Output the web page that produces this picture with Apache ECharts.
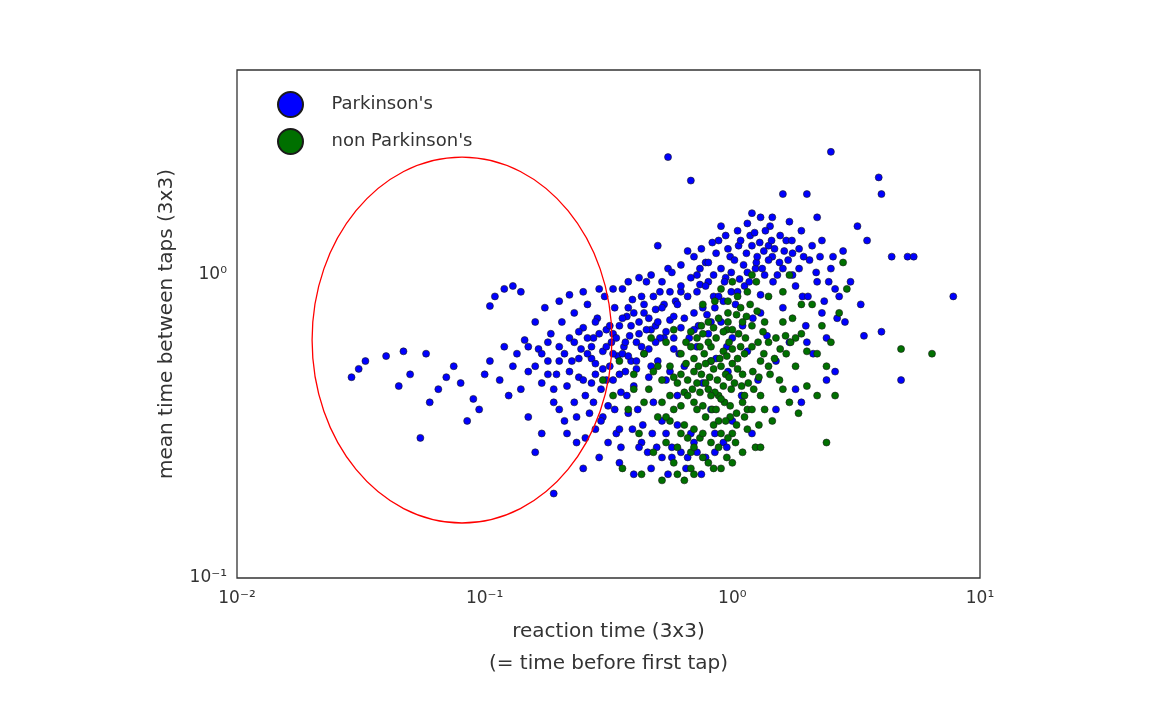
<!DOCTYPE html>
<html><head><meta charset="utf-8">
<script src="https://cdn.jsdelivr.net/npm/echarts@6/dist/echarts.min.js"></script>
<style>html,body{margin:0;background:#fff}#c{width:1175px;height:723px}</style>
</head><body><div id="c"></div>
<script>
const seriesNames = ["Parkinson's", "non Parkinson's"];
const xTicks = [0.01, 0.1, 1, 10];
const yTicks = [0.1, 1];
const parkinsons = [
[0.029,0.46],[0.031,0.49],[0.033,0.52],[0.040,0.54],[0.047,0.56],[0.045,0.43],[0.050,0.47],[0.058,0.55],[0.055,0.29],[0.060,0.38],
[0.065,0.42],[0.070,0.46],[0.075,0.50],[0.080,0.44],[0.085,0.33],[0.090,0.39],[0.100,0.47],[0.105,0.79],[0.110,0.85],[0.120,0.90],
[0.130,0.92],[0.140,0.88],[0.120,0.58],[0.130,0.50],[0.140,0.42],[0.150,0.34],[0.160,0.26],[0.170,0.30],[0.190,0.19],[0.200,0.82],
[0.220,0.86],[0.095,0.36],[0.105,0.52],[0.115,0.45],[0.125,0.40],[0.135,0.55],[0.145,0.61],[0.150,0.48],[0.160,0.70],[0.165,0.57],
[0.170,0.44],[0.175,0.78],[0.180,0.52],[0.185,0.64],[0.190,0.38],[0.195,0.47],[0.200,0.58],[0.205,0.70],[0.210,0.33],[0.215,0.43],
[0.220,0.62],[0.225,0.52],[0.230,0.75],[0.235,0.28],[0.240,0.46],[0.245,0.57],[0.250,0.67],[0.255,0.40],[0.260,0.80],[0.265,0.35],
[0.270,0.53],[0.275,0.62],[0.280,0.47],[0.285,0.72],[0.290,0.25],[0.295,0.42],[0.300,0.56],[0.305,0.85],[0.310,0.66],[0.315,0.37],
[0.320,0.50],[0.325,0.60],[0.330,0.45],[0.335,0.78],[0.340,0.30],[0.345,0.54],[0.350,0.68],[0.355,0.41],[0.360,0.90],[0.365,0.58],
[0.370,0.48],[0.375,0.73],[0.380,0.35],[0.385,0.63],[0.390,0.52],[0.395,0.83],[0.400,0.43],[0.410,0.60],[0.420,0.70],[0.430,0.28],
[0.440,0.55],[0.450,0.95],[0.460,0.46],[0.470,0.66],[0.480,0.38],[0.490,0.77],[0.500,0.52],[0.510,0.88],[0.520,0.33],[0.530,0.62],
[0.540,0.45],[0.550,1.05],[0.560,0.71],[0.570,0.25],[0.580,0.57],[0.590,0.82],[0.600,0.40],[0.620,0.67],[0.640,0.50],[0.660,1.20],
[0.680,0.30],[0.700,0.75],[0.720,0.58],[0.740,0.93],[0.760,0.44],[0.780,1.10],[0.800,0.64],[0.820,0.36],[0.840,0.85],[0.860,0.53],
[0.880,1.30],[0.900,0.70],[0.920,0.28],[0.940,0.98],[0.960,0.48],[0.980,1.15],[1.000,0.62],[1.030,0.80],[1.060,1.25],[1.090,0.40],
[1.120,0.92],[1.150,0.56],[1.180,1.35],[1.210,0.72],[1.240,1.05],[1.270,0.45],[1.300,0.86],[1.340,1.20],[1.380,0.63],[1.420,1.45],
[1.460,0.95],[1.500,0.52],[1.550,1.10],[1.600,0.78],[1.650,1.30],[1.700,0.60],[1.750,1.00],[1.800,0.42],[1.860,1.22],[1.920,0.85],
[1.980,0.68],[2.050,1.12],[2.120,0.55],[2.200,0.95],[2.300,0.75],[2.400,0.62],[2.500,1.05],[2.600,0.48],[2.700,0.85],[2.850,0.70],
[0.550,2.45],[0.680,2.05],[2.500,2.55],[3.900,2.10],[4.000,1.85],[2.000,1.85],[1.600,1.85],[1.450,1.55],[7.800,0.85],[4.400,1.15],
[5.100,1.15],[5.400,1.15],[3.500,1.30],[3.000,0.95],[4.000,0.65],[4.800,0.45],[3.400,0.63],[1.200,1.60],[0.900,1.45],[2.200,1.55],
[0.500,1.25],[0.350,0.24],[0.400,0.22],[0.470,0.23],[0.550,0.22],[0.650,0.23],[0.750,0.22],[0.300,0.34],[0.350,0.31],[0.420,0.27],
[0.600,0.32],[0.700,0.28],[0.850,0.30],[1.000,0.33],[1.200,0.30],[1.500,0.36],[1.900,0.38],[0.250,0.23],[0.280,0.31],[0.330,0.64],
[0.410,0.49],[0.460,0.57],[0.510,0.62],[0.560,0.48],[0.610,0.55],[0.670,0.62],[0.730,0.68],[0.790,0.74],[0.850,0.78],[0.920,0.82],
[0.990,0.88],[1.070,0.97],[1.150,1.02],[1.250,1.10],[1.350,1.00],[1.450,1.15],[1.600,1.05],[1.750,1.18],[1.300,0.75],[1.100,0.68],
[0.950,0.58],[0.820,0.52],[0.620,0.88],[0.720,1.00],[0.800,0.95],[0.380,0.78],[0.430,0.85],[0.280,0.70],[0.240,0.65],[0.200,0.52],
[0.180,0.60],[0.270,0.44],[0.310,0.45],[0.360,0.55],[0.230,0.38],[0.260,0.55],[0.440,0.75],[0.490,0.68],[0.530,0.80],[0.580,0.73],
[3.200,1.45],[2.800,1.20],[2.300,1.30],[1.900,1.40],[1.700,1.50],[1.400,1.25],[2.600,0.90],[3.300,0.80],[2.000,0.60],[2.400,0.45]
];
const parkinsonsCore = [
[0.210,0.55],[0.220,0.48],[0.230,0.60],[0.240,0.53],[0.250,0.45],[0.260,0.62],[0.270,0.58],[0.280,0.51],[0.290,0.64],[0.300,0.49],
[0.310,0.58],[0.320,0.68],[0.330,0.55],[0.340,0.62],[0.350,0.47],[0.360,0.72],[0.370,0.60],[0.380,0.54],[0.390,0.68],[0.400,0.75],
[0.410,0.52],[0.420,0.64],[0.430,0.58],[0.440,0.80],[0.450,0.66],[0.460,0.72],[0.470,0.50],[0.480,0.85],[0.490,0.60],[0.500,0.70],
[0.520,0.78],[0.540,0.65],[0.560,0.88],[0.580,0.62],[0.600,0.80],[0.620,0.92],[0.640,0.72],[0.660,0.85],[0.680,0.98],[0.700,0.66],
[0.720,0.88],[0.740,1.05],[0.760,0.78],[0.780,0.92],[0.800,1.10],[0.820,0.70],[0.840,1.00],[0.860,1.18],[0.880,0.85],[0.900,1.05],
[0.930,0.95],[0.960,1.22],[0.990,1.02],[1.020,1.12],[1.050,0.88],[1.080,1.30],[1.110,1.08],[1.140,1.18],[1.170,0.95],[1.200,1.25],
[1.230,1.38],[1.260,1.15],[1.290,1.28],[1.320,1.05],[1.360,1.40],[1.400,1.12],[1.440,1.30],[1.480,1.22],[1.520,1.00],[1.560,1.35],
[1.620,1.20],[1.680,1.12],[1.740,1.30],[1.800,0.92],[1.860,1.05],[1.940,1.15],[2.020,0.85],[2.100,1.25],[2.180,1.02],[2.260,1.15],
[2.350,0.82],[2.450,0.95],[2.550,1.15],[2.650,0.72],[0.190,0.42],[0.200,0.36],[0.215,0.30],[0.235,0.34],[0.255,0.29],[0.275,0.38],
[0.295,0.33],[0.315,0.28],[0.335,0.36],[0.355,0.27],[0.375,0.40],[0.395,0.31],[0.415,0.36],[0.435,0.32],[0.455,0.26],[0.475,0.30],
[0.495,0.27],[0.520,0.25],[0.540,0.30],[0.570,0.27],[0.620,0.26],[0.660,0.25],[0.720,0.26],[0.780,0.25],[0.850,0.26],[0.950,0.27],
[0.330,0.90],[0.380,0.95],[0.420,0.98],[0.470,1.00],[0.520,0.95],[0.570,1.02],[0.620,1.08],[0.700,1.15],[0.750,1.22],[0.830,1.28],
[0.940,1.35],[1.050,1.40],[1.150,1.48],[1.300,1.55],[0.250,0.88],[0.290,0.90],[0.160,0.50],[0.170,0.55],[0.180,0.47],[0.150,0.58]
];
const nonParkinsons = [
[0.300,0.45],[0.330,0.40],[0.350,0.52],[0.380,0.36],[0.400,0.47],[0.420,0.30],[0.440,0.55],[0.460,0.42],[0.480,0.26],[0.500,0.50],
[0.520,0.38],[0.540,0.60],[0.560,0.33],[0.580,0.46],[0.600,0.22],[0.620,0.55],[0.640,0.41],[0.660,0.29],[0.680,0.65],[0.700,0.48],
[0.720,0.36],[0.740,0.58],[0.760,0.25],[0.780,0.44],[0.800,0.70],[0.820,0.52],[0.840,0.32],[0.860,0.62],[0.880,0.40],[0.900,0.23],
[0.920,0.56],[0.940,0.47],[0.960,0.75],[0.980,0.34],[1.000,0.51],[1.030,0.28],[1.060,0.64],[1.090,0.43],[1.120,0.55],[1.150,0.36],
[1.180,0.80],[1.210,0.48],[1.240,0.27],[1.270,0.60],[1.300,0.40],[1.350,0.70],[1.400,0.50],[1.450,0.33],[1.500,0.62],[1.550,0.45],
[1.600,0.88],[1.650,0.55],[1.700,0.38],[1.750,0.72],[1.800,0.50],[1.900,0.64],[2.000,0.43],[2.100,0.80],[2.200,0.55],[2.300,0.68],
[2.500,0.60],[2.700,0.75],[2.800,1.10],[2.900,0.90],[4.800,0.57],[6.400,0.55],[2.400,0.28],[0.360,0.23],[0.430,0.22],[0.520,0.21],
[0.640,0.21],[0.700,0.22],[0.800,0.24],[0.950,0.25],[1.100,0.26],[1.300,0.27],[0.560,0.50],[0.600,0.44],[0.650,0.51],[0.690,0.42],
[0.730,0.50],[0.770,0.55],[0.810,0.46],[0.850,0.41],[0.890,0.53],[0.930,0.38],[0.970,0.60],[0.620,0.37],[0.700,0.31],[0.760,0.37],
[0.830,0.36],[0.900,0.30],[0.990,0.42],[1.050,0.49],[1.120,0.40],[1.200,0.58],[1.300,0.52],[1.400,0.60],[1.100,0.70],[0.950,0.66],
[0.850,0.82],[0.750,0.68],[0.650,0.60],[0.580,0.66],[0.900,0.90],[1.050,0.85],[1.250,0.95],[1.400,0.85],[1.200,1.00],[1.000,0.95],
[1.600,0.70],[1.800,0.62],[2.000,0.56],[1.700,1.00],[1.900,0.80],[2.400,0.50],[2.600,0.40],[0.470,0.62],[0.500,0.34],[0.540,0.28],
[0.600,0.27],[0.680,0.26],[0.740,0.29],[0.880,0.33],[1.000,0.30],[1.150,0.31],[1.350,0.36],[1.600,0.42],[1.850,0.35],[2.200,0.40]
];
const nonParkinsonsCore = [
[0.620,0.47],[0.660,0.45],[0.700,0.53],[0.720,0.44],[0.750,0.47],[0.780,0.51],[0.800,0.42],[0.820,0.58],[0.840,0.49],[0.870,0.45],
[0.900,0.50],[0.920,0.43],[0.950,0.54],[0.970,0.46],[1.000,0.57],[1.020,0.44],[1.050,0.53],[1.080,0.58],[1.100,0.47],[1.130,0.62],
[0.660,0.40],[0.700,0.38],[0.740,0.41],[0.780,0.34],[0.820,0.40],[0.860,0.36],[0.900,0.39],[0.940,0.33],[0.980,0.37],[1.040,0.35],
[1.100,0.38],[1.160,0.44],[1.220,0.42],[1.280,0.46],[1.340,0.55],[1.420,0.47],[1.480,0.53],[1.560,0.57],[1.640,0.63],[1.720,0.60],
[0.680,0.58],[0.720,0.62],[0.760,0.64],[0.800,0.60],[0.840,0.67],[0.880,0.72],[0.920,0.65],[0.960,0.70],[1.000,0.66],[1.040,0.74],
[1.080,0.78],[1.140,0.73],[1.200,0.68],[1.260,0.76],[1.330,0.65],[0.560,0.40],[0.520,0.45],[0.480,0.48],[0.440,0.38],[0.400,0.42],
[0.640,0.32],[0.700,0.27],[0.760,0.30],[0.820,0.28],[0.880,0.27],[0.960,0.29],[1.040,0.32],[1.120,0.34],[1.200,0.36],[1.280,0.32],
[0.580,0.36],[0.620,0.30],[0.540,0.34],[1.000,0.24],[0.840,0.23],[0.680,0.23],[0.580,0.24],[0.760,0.80],[0.960,0.82],[1.150,0.88]
];
const chart = echarts.init(document.getElementById('c'));
const sup = {'-2':'10⁻²','-1':'10⁻¹','0':'10⁰','1':'10¹'};
const fmt = v => sup[String(Math.round(Math.log10(v)))] || '';
const itemBase = {borderColor:'#1a1a1a', borderWidth:0.6, opacity:1};
chart.setOption({
  animation:false,
  backgroundColor:'#fff',
  grid:{left:237,right:195,top:70,bottom:145,show:true,borderColor:'#333',borderWidth:1.3,backgroundColor:'transparent'},
  legend:{left:272,top:86,orient:'vertical',itemGap:10,itemWidth:28,itemHeight:25,
    textStyle:{fontSize:18,color:'#333',fontFamily:'DejaVu Sans',padding:[0,0,0,22]},
    data:[{name:seriesNames[0],icon:'circle'},{name:seriesNames[1],icon:'circle'}]},
  xAxis:{type:'log',logBase:10,min:xTicks[0],max:xTicks[xTicks.length-1],
    name:'reaction time (3x3)\n(= time before first tap)',nameLocation:'middle',nameGap:38,
    nameTextStyle:{fontSize:20,color:'#333',fontFamily:'DejaVu Sans',lineHeight:32},
    axisLine:{show:false},axisTick:{show:false},splitLine:{show:false},
    axisLabel:{formatter:fmt,fontSize:17,color:'#333',fontFamily:'DejaVu Sans',margin:12}},
  yAxis:{type:'log',logBase:10,min:yTicks[0],max:4.75,
    name:'mean time between taps (3x3)',nameLocation:'middle',nameGap:60,
    nameTextStyle:{fontSize:20,color:'#333',fontFamily:'DejaVu Sans'},
    axisLine:{show:false},axisTick:{show:false},splitLine:{show:false},
    axisLabel:{formatter:fmt,fontSize:17,color:'#333',fontFamily:'DejaVu Sans',margin:10,showMaxLabel:false}},
  series:[
    {name:seriesNames[0],type:'scatter',symbolSize:7,data:parkinsons.concat(parkinsonsCore),itemStyle:Object.assign({color:'#0000ff'},itemBase)},
    {name:seriesNames[1],type:'scatter',symbolSize:7,data:nonParkinsons.concat(nonParkinsonsCore),itemStyle:Object.assign({color:'#007000'},itemBase)}
  ]
});
const c = chart.convertToPixel({gridIndex:0},[0.081,0.61]);
const l = chart.convertToPixel({gridIndex:0},[0.0201,0.61]);
const t = chart.convertToPixel({gridIndex:0},[0.081,2.45]);
chart.setOption({graphic:[{type:'ellipse',shape:{cx:c[0],cy:c[1],rx:c[0]-l[0],ry:c[1]-t[1]},
  style:{fill:'none',stroke:'#ff0000',lineWidth:1.3},z:100}]});
</script></body></html>
